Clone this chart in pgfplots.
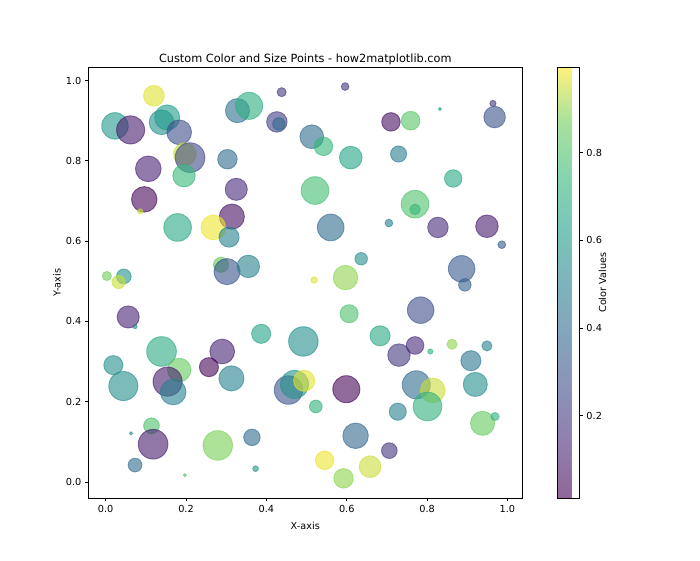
\documentclass[border=0pt]{standalone}
\usepackage{fontspec}
\setmainfont{DejaVu Sans}
\usepackage{pgfplots}
\pgfplotsset{compat=1.18}
\usepackage{pgfplotstable}

% x, y, marker radius (px), colour value
\pgfplotstableread{
x y r c
0.120 0.962 10.8 0.97
0.023 0.887 13.7 0.60
0.062 0.877 14.5 0.10
0.139 0.896 12.8 0.55
0.153 0.908 13.0 0.62
0.183 0.871 12.8 0.28
0.197 0.817 11.7 0.95
0.210 0.808 15.3 0.25
0.195 0.763 11.7 0.75
0.303 0.804 10.2 0.40
0.106 0.780 13.3 0.12
0.096 0.704 13.2 0.03
0.328 0.925 12.5 0.42
0.325 0.729 11.5 0.15
0.314 0.661 13.0 0.06
0.086 0.674 3.0 0.95
0.357 0.937 14.0 0.70
0.438 0.971 5.0 0.20
0.426 0.897 10.7 0.22
0.431 0.892 6.7 0.38
0.596 0.985 4.3 0.20
0.513 0.860 12.3 0.40
0.542 0.836 9.7 0.75
0.610 0.808 11.8 0.65
0.521 0.726 14.3 0.78
0.710 0.897 9.7 0.06
0.759 0.900 9.8 0.82
0.832 0.929 2.0 0.65
0.964 0.943 3.5 0.20
0.968 0.909 11.2 0.30
0.729 0.817 8.5 0.48
0.865 0.756 9.2 0.67
0.770 0.692 14.3 0.80
0.770 0.679 5.7 0.75
0.179 0.634 14.3 0.67
0.268 0.634 12.8 0.98
0.307 0.610 10.5 0.50
0.003 0.513 5.0 0.87
0.045 0.512 7.8 0.58
0.032 0.498 7.0 0.95
0.287 0.541 8.0 0.85
0.302 0.524 13.5 0.30
0.056 0.411 11.5 0.12
0.073 0.387 2.5 0.55
0.139 0.325 15.3 0.68
0.290 0.325 12.8 0.12
0.560 0.634 13.8 0.40
0.355 0.537 11.7 0.50
0.636 0.556 6.7 0.55
0.519 0.503 3.7 0.97
0.597 0.509 12.7 0.90
0.606 0.419 9.5 0.80
0.387 0.369 10.0 0.65
0.492 0.350 15.2 0.55
0.683 0.364 10.5 0.67
0.705 0.645 4.3 0.50
0.827 0.634 10.7 0.15
0.949 0.637 11.7 0.10
0.986 0.591 4.3 0.33
0.886 0.531 13.7 0.32
0.894 0.491 6.7 0.35
0.784 0.428 13.7 0.28
0.730 0.316 11.7 0.20
0.770 0.340 9.3 0.15
0.808 0.325 3.0 0.72
0.862 0.343 5.5 0.90
0.949 0.339 5.5 0.50
0.909 0.302 10.5 0.45
0.019 0.291 10.0 0.55
0.044 0.239 15.0 0.55
0.183 0.279 12.2 0.85
0.154 0.250 15.0 0.10
0.168 0.224 13.3 0.50
0.257 0.286 10.0 0.03
0.313 0.258 13.0 0.50
0.114 0.140 8.3 0.80
0.118 0.094 15.3 0.10
0.063 0.121 2.0 0.55
0.073 0.042 7.3 0.40
0.197 0.017 2.0 0.82
0.279 0.091 15.2 0.88
0.455 0.229 14.7 0.30
0.470 0.243 14.5 0.57
0.494 0.252 11.0 0.97
0.599 0.231 14.0 0.03
0.523 0.188 6.8 0.72
0.364 0.111 8.7 0.40
0.373 0.033 3.3 0.60
0.622 0.115 13.2 0.38
0.545 0.054 9.7 0.98
0.592 0.009 10.2 0.90
0.658 0.038 11.3 0.95
0.773 0.242 14.5 0.40
0.814 0.228 12.8 0.95
0.801 0.188 14.8 0.72
0.920 0.243 12.5 0.55
0.727 0.175 9.0 0.50
0.938 0.146 12.5 0.85
0.969 0.163 4.5 0.72
0.706 0.078 8.3 0.18
}\points

\begin{document}
\begin{tikzpicture}
\useasboundingbox (0,0) rectangle (700pt,560pt);
\begin{axis}[
  at={(88.3pt,62pt)}, anchor=south west,
  width=434pt, height=430.7pt, scale only axis,
  xmin=-0.0433, xmax=1.037, ymin=-0.04, ymax=1.033,
  xtick={0,0.2,0.4,0.6,0.8,1.0},
  ytick={0,0.2,0.4,0.6,0.8,1.0},
  tick pos=left, tick align=outside,
  major tick length=3.4pt,
  every tick/.style={black, line width=0.78pt},
  axis line style={line width=0.78pt},
  /pgf/number format/assume math mode=true,
  xticklabel style={/pgf/number format/fixed, /pgf/number format/fixed zerofill, /pgf/number format/precision=1},
  yticklabel style={/pgf/number format/fixed, /pgf/number format/fixed zerofill, /pgf/number format/precision=1},
  tick label style={font=\fontsize{9.72}{11}\selectfont},
  label style={font=\fontsize{9.72}{11}\selectfont},
  title={Custom Color and Size Points - how2matplotlib.com},
  title style={font=\fontsize{11.3}{14}\selectfont, at={(axis description cs:0.5,1)}, anchor=base, yshift=-0.9pt},
  xlabel={X-axis},
  xlabel style={at={(axis description cs:0.5,-0.065)}, anchor=center},
  ylabel={Y-axis},
  ylabel style={at={(axis description cs:-0.072,0.5)}, anchor=center},
  colormap={vir}{rgb255=(68,1,84) rgb255=(72,40,120) rgb255=(62,73,137) rgb255=(49,104,142) rgb255=(38,130,142) rgb255=(31,158,137) rgb255=(53,183,121) rgb255=(110,206,88) rgb255=(253,231,37)},
  point meta min=0.012, point meta max=0.995,
  colorbar,
  colorbar style={
    at={(parent axis.north east)}, anchor=north west, xshift=26.7pt,
    width=22pt,
    colormap={virfaded}{rgb255=(143,103,152) rgb255=(145,126,174) rgb255=(139,146,184) rgb255=(131,164,187) rgb255=(125,180,187) rgb255=(121,197,184) rgb255=(134,212,175) rgb255=(168,226,155) rgb255=(254,241,124)},
    ytick={0.2,0.4,0.6,0.8},
    ytick pos=right,
    /pgf/number format/assume math mode=true,
    yticklabel style={/pgf/number format/fixed, /pgf/number format/precision=1, font=\fontsize{9.72}{11}\selectfont},
    ylabel={Color Values},
    ylabel style={font=\fontsize{9.72}{11}\selectfont},
    ylabel shift=-10pt,
    major tick length=3.4pt,
    tick align=outside,
    every tick/.style={black, line width=0.78pt},
    axis line style={line width=0.78pt},
  },
]
\addplot[
  scatter, only marks, mark=*,
  scatter/use mapped color={draw=mapped color, fill=mapped color},
  fill opacity=0.6, draw opacity=0.6, line width=0.9pt,
  visualization depends on={\thisrow{r} \as \rad},
  scatter/@pre marker code/.append style={/tikz/mark size=\rad pt - 0.45pt},
  point meta=explicit,
] table[x=x, y=y, meta=c] {\points};
\end{axis}
\end{tikzpicture}
\end{document}
